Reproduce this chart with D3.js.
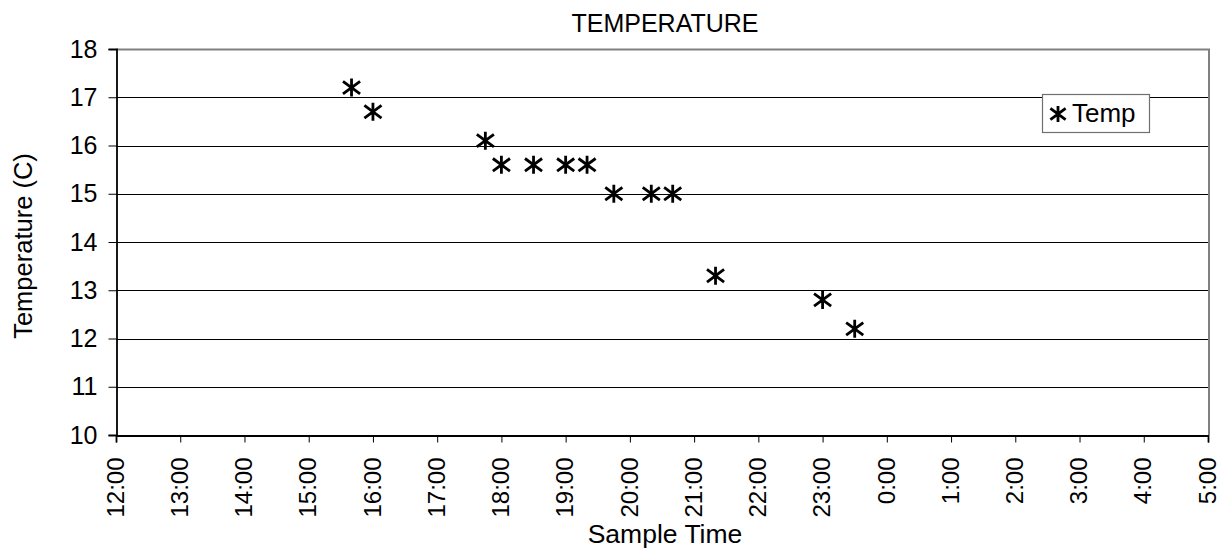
<!DOCTYPE html>
<html>
<head>
<meta charset="utf-8">
<script src="https://cdn.jsdelivr.net/npm/d3@7"></script>
<style>
  html, body { margin: 0; padding: 0; background: #fff; }
  svg { display: block; font-family: "Liberation Sans", Arial, sans-serif; }
</style>
</head>
<body>
<svg id="chart" width="1222" height="552"></svg>
<script>
// ---- data ----
const sampleTimes = ["15:40", "16:00", "17:45", "18:00", "18:30", "19:00", "19:20", "19:45", "20:20", "20:40", "21:20", "23:00", "23:30"];
const temperatures = [17.2, 16.7, 16.1, 15.6, 15.6, 15.6, 15.6, 15.0, 15.0, 15.0, 13.3, 12.8, 12.2];
const xTickLabels = ["12:00","13:00","14:00","15:00","16:00","17:00","18:00","19:00","20:00","21:00","22:00","23:00","0:00","1:00","2:00","3:00","4:00","5:00"];
const yTicks = [10, 11, 12, 13, 14, 15, 16, 17, 18];
const seriesName = "Temp";
const chartTitle = "TEMPERATURE";
const xTitle = "Sample Time";
const yTitle = "Temperature (C)";

// parse "HH:MM" on a 12:00 -> 5:00 next-day window
function toDate(s) {
  const [h, m] = s.split(":").map(Number);
  const day = h < 12 ? 2 : 1;
  return new Date(2000, 0, day, h, m);
}
const data = sampleTimes.map((t, i) => ({ t: toDate(t), v: temperatures[i] }));
const tickDates = xTickLabels.map(toDate);

const svg = d3.select("#chart");
const m = { left: 116, right: 1208, top: 49, bottom: 435 };

const x = d3.scaleTime().domain([tickDates[0], tickDates[tickDates.length - 1]]).range([m.left, m.right]);
const y = d3.scaleLinear().domain([10, 18]).range([m.bottom, m.top]);

// gridlines
svg.append("g").selectAll("line").data(yTicks.filter(d => d > 10 && d < 18)).join("line")
  .attr("x1", m.left).attr("x2", m.right)
  .attr("y1", d => Math.round(y(d)) + 0.5).attr("y2", d => Math.round(y(d)) + 0.5)
  .attr("stroke", "#000").attr("stroke-width", 1);

// plot border (gray top/right)
svg.append("path")
  .attr("d", `M${m.left},${Math.round(y(18)) + 0.5}H${m.right + 1}V${m.bottom}`)
  .attr("fill", "none").attr("stroke", "#808080").attr("stroke-width", 2);

// y axis
const yAxis = svg.append("g").attr("transform", `translate(${m.left + 0.5},0)`)
  .call(d3.axisLeft(y).tickValues(yTicks).tickFormat(d3.format("d")).tickSizeOuter(0).tickSize(8).tickPadding(11));
yAxis.select(".domain").attr("stroke", "#000").attr("stroke-width", 1.8);
yAxis.selectAll(".tick line").attr("stroke", "#000");
yAxis.selectAll("text").attr("font-size", 25).attr("fill", "#000");

// x axis
const xAxis = svg.append("g").attr("transform", `translate(0,${m.bottom + 0.5})`)
  .call(d3.axisBottom(x).tickValues(tickDates).tickFormat((d, i) => xTickLabels[i]).tickSizeOuter(0).tickSize(7));
xAxis.select(".domain").attr("stroke", "#000").attr("stroke-width", 1.8);
xAxis.selectAll(".tick line").attr("stroke", "#000");
xAxis.selectAll("text")
  .attr("font-size", 24).attr("fill", "#000")
  .attr("transform", "rotate(-90)")
  .attr("text-anchor", "end")
  .attr("x", -22).attr("y", 0).attr("dy", "0.3em");

// star markers
function star(g, s, w) {
  g.append("path")
    .attr("d", `M0,${-s}V${s}M${-s * 0.95},${-s * 0.7}L${s * 0.95},${s * 0.7}M${-s * 0.95},${s * 0.7}L${s * 0.95},${-s * 0.7}`)
    .attr("stroke", "#000").attr("stroke-width", w).attr("fill", "none");
}
svg.append("g").selectAll("g").data(data).join("g")
  .attr("transform", d => `translate(${x(d.t)},${y(d.v)})`)
  .each(function () { star(d3.select(this), 9, 2.8); });

// titles
svg.append("text").attr("x", 665).attr("y", 32).attr("text-anchor", "middle")
  .attr("font-size", 25).text(chartTitle);
svg.append("text").attr("x", 665).attr("y", 543).attr("text-anchor", "middle")
  .attr("font-size", 26.5).text(xTitle);
svg.append("text").attr("transform", "translate(32,246) rotate(-90)").attr("text-anchor", "middle")
  .attr("font-size", 25.5).text(yTitle);

// legend
const lg = svg.append("g");
lg.append("rect").attr("x", 1042.5).attr("y", 94.5).attr("width", 107).attr("height", 38)
  .attr("fill", "#fff").attr("stroke", "#707070").attr("stroke-width", 1.2);
const lm = lg.append("g").attr("transform", "translate(1058,114)");
star(lm, 8, 2.8);
lg.append("text").attr("x", 1072).attr("y", 122).attr("font-size", 26).text(seriesName);
</script>
</body>
</html>
